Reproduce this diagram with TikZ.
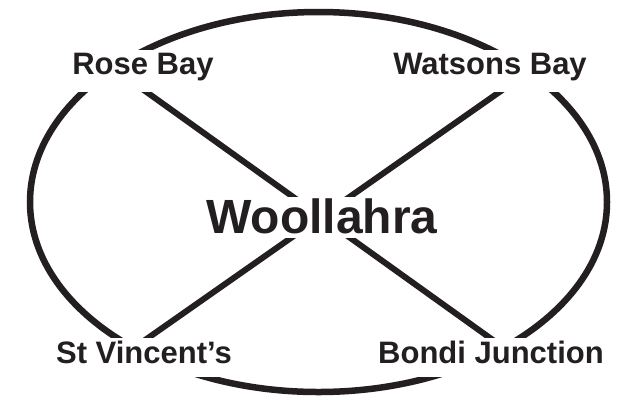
\documentclass[tikz,border=0pt]{standalone}
\usepackage{fontspec}
\setmainfont{Liberation Sans}
\definecolor{ink}{HTML}{231F20}
\begin{document}
\begin{tikzpicture}[x=1pt,y=-1pt,
  ring/.style={draw=ink,line width=6.5pt},
  spoke/.style={draw=ink,line width=6pt},
  place/.style={fill=white,text=ink,inner xsep=4pt,inner ysep=0pt,anchor=base,
    font=\bfseries\fontsize{31}{37}\selectfont},
  toprow/.style={place,text height=24pt,text depth=18pt},
  botrow/.style={place,text height=25pt,text depth=14pt},
  hub/.style={fill=white,text=ink,inner xsep=4pt,inner ysep=0pt,anchor=base,
    text height=36pt,text depth=5pt,font=\bfseries\fontsize{48}{56}\selectfont}]
\useasboundingbox (0,0) rectangle (623,400);
% ellipse
\draw[ring] (318.5,202) ellipse [x radius=288.5, y radius=190];
% spoke end points
\coordinate (tl) at (135.8,84.3);
\coordinate (br) at (502.2,346.7);
\coordinate (tr) at (510.3,84.4);
\coordinate (bl) at (135.7,346.6);
\draw[spoke] (tl) -- (br);
\draw[spoke] (tr) -- (bl);
% labels
\node[toprow] (rose) at (143,74) {Rose Bay};
\node[toprow] (watsons) at (490,74) {Watsons Bay};
\node[botrow] (vincent) at (144,363) {St Vincent’s};
\node[botrow] (bondi) at (491,363) {Bondi Junction};
\node[hub] (woollahra) at (322,233) {Woollahra};
\end{tikzpicture}
\end{document}
